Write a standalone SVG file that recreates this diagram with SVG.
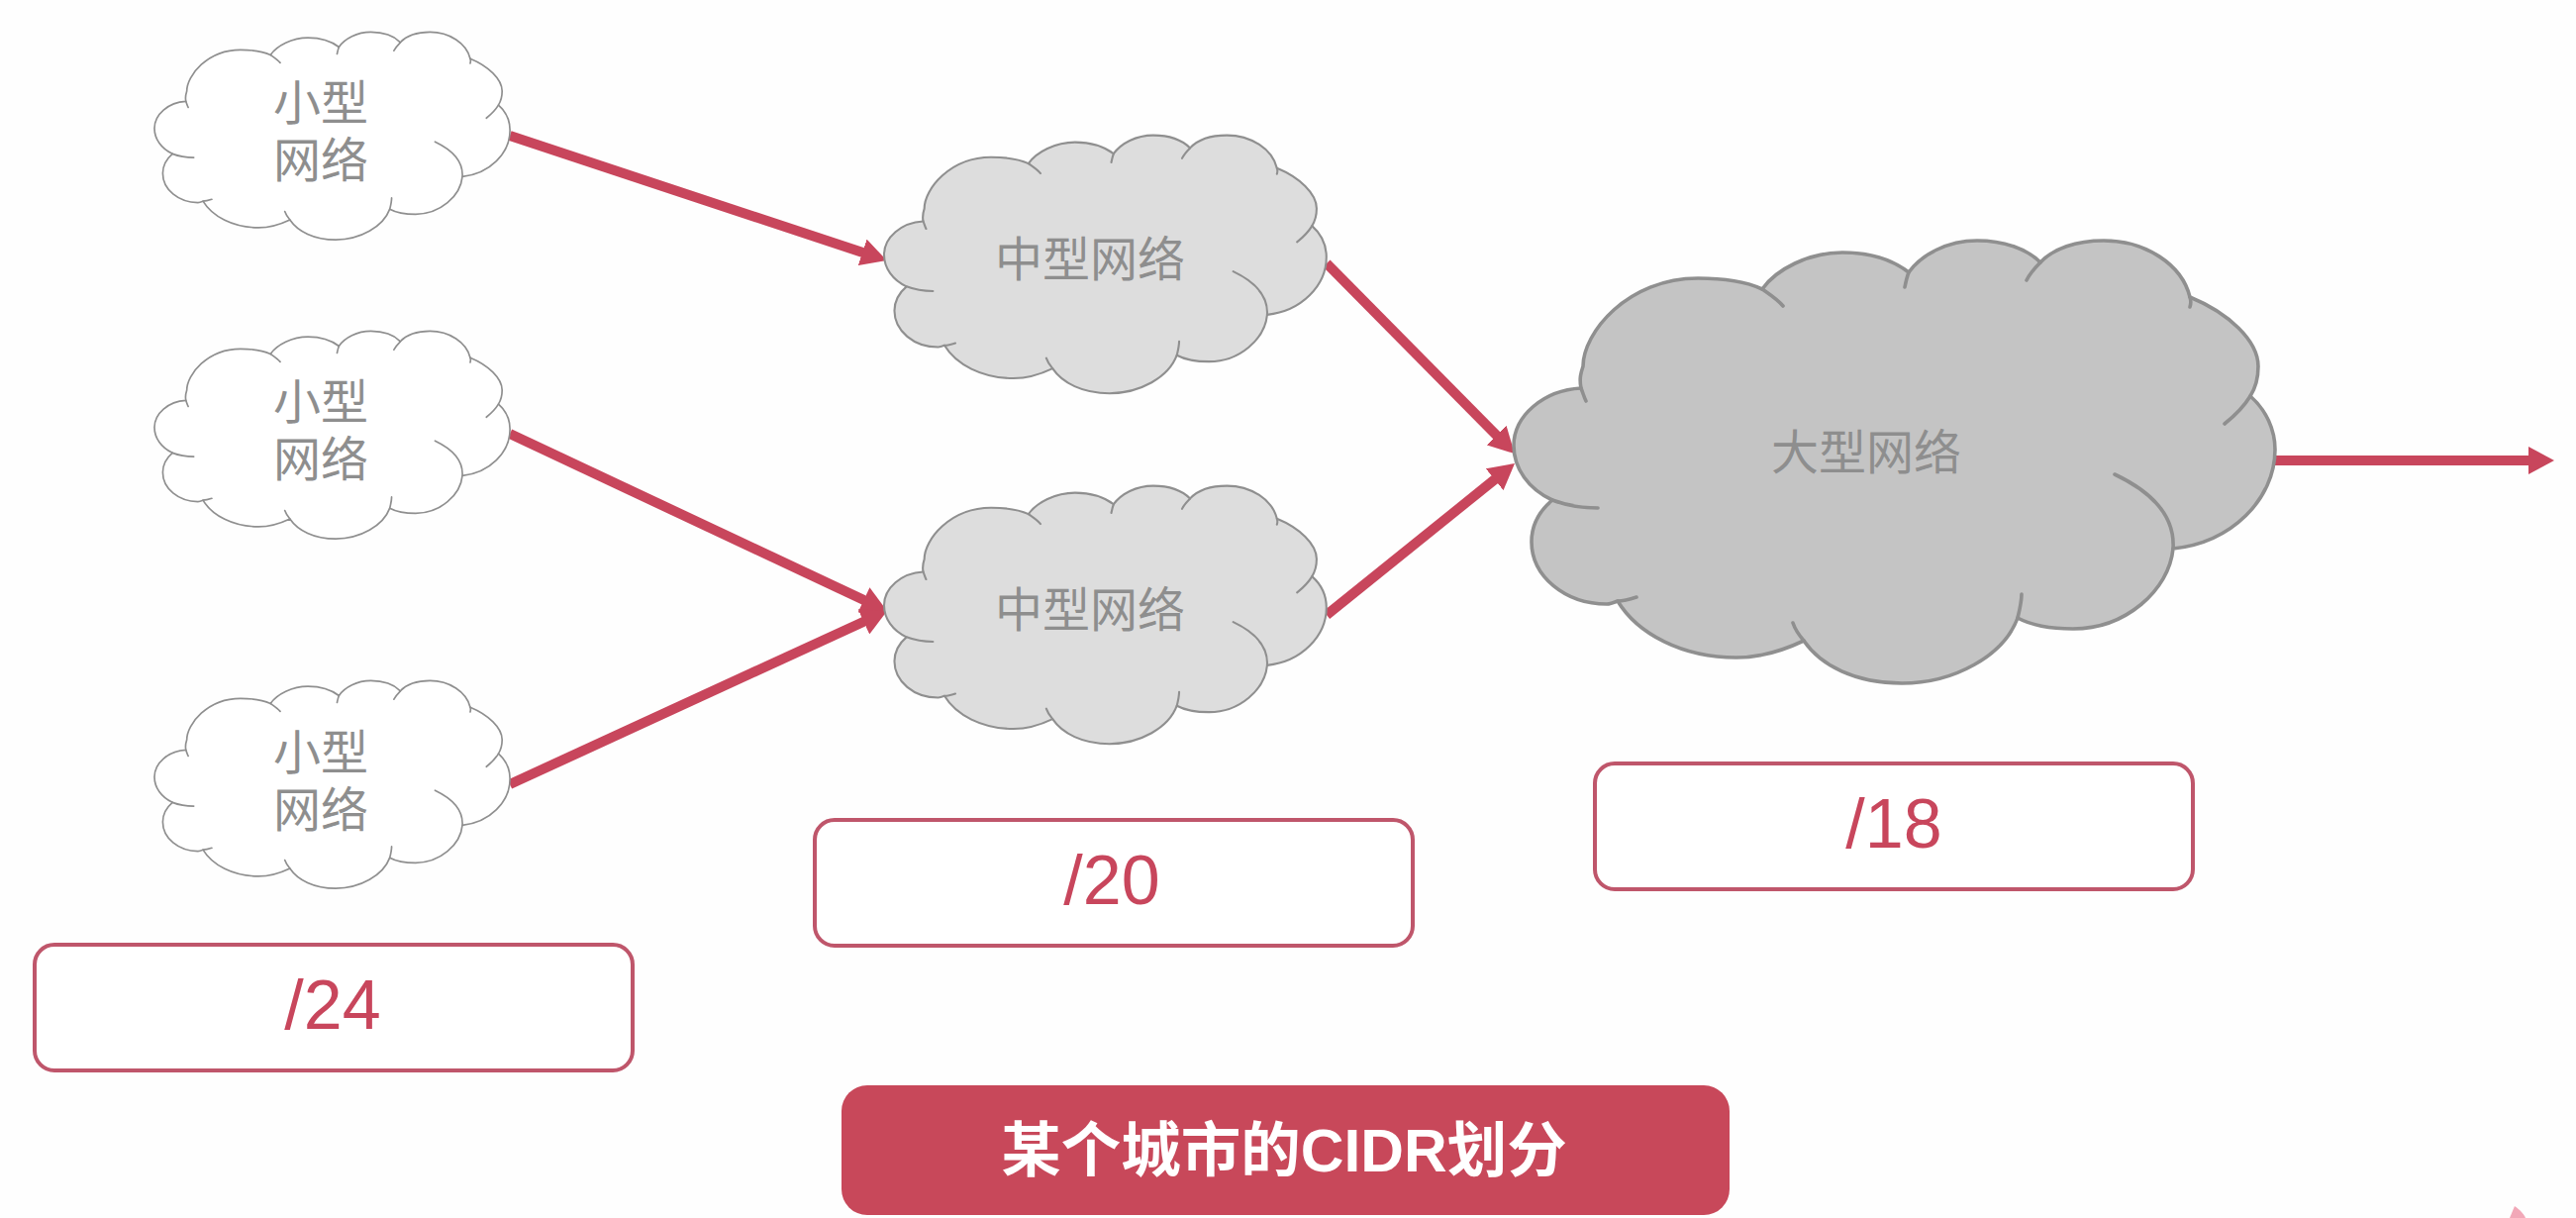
<svg xmlns="http://www.w3.org/2000/svg" width="2602" height="1230" viewBox="0 0 2602 1230">
<style>
.cb{stroke:#8f8f8f;stroke-width:3.6;stroke-linejoin:round;vector-effect:non-scaling-stroke}
.ct{fill:none;stroke:#8f8f8f;stroke-width:3.6;stroke-linecap:round;vector-effect:non-scaling-stroke}
.small{fill:#ffffff}.medium{fill:#dddddd}.large{fill:#c4c4c4}
.lbl{font-family:"Noto Sans CJK SC","Liberation Sans",sans-serif;font-size:48px;font-weight:400;fill:#8e8e8e;text-anchor:middle}
.conn{stroke:#c8465c;stroke-width:10;fill:none;marker-end:url(#head)}
.pill{fill:#ffffff;stroke:#bf566b;stroke-width:4}
.num{font-family:"Liberation Sans",sans-serif;font-size:70px;fill:#c8465c;text-anchor:middle}
.title{font-family:"Liberation Sans","Noto Sans CJK SC",sans-serif;font-size:60.5px;font-weight:700;fill:#ffffff;text-anchor:middle}
</style>
<defs>
<marker id="head" markerUnits="userSpaceOnUse" viewBox="0 0 26 28" refX="2" refY="14" markerWidth="26" markerHeight="28" orient="auto"><path d="M0 0L26 14L0 28Z" fill="#c8465c"/></marker>
<path id="body" d="M68 150C66 140 68 134 70 128C70 94 115 39 186 39C213 39 236 43 251 50C265 30 298 13 332 13C358 13 382 20 399 33C412 15 438 1 468 1C495 1 518 9 532 23C545 9 568 1 596 1C638 1 675 25 683 58C722 74 752 102 752 128C752 140 749 150 744 158C760 172 769 192 769 212C769 262 725 306 666 312C662 354 618 393 565 393C542 393 522 389 509 382C495 420 445 448 392 448C345 448 310 430 293 405C272 415 250 422 225 422C170 422 125 398 105 365C100 367 97 368 94 368C52 368 18 340 18 305C18 288 26 274 39 263C15 252 0 231 0 208C0 178 30 152 68 150Z"/>
<path id="ticks" d="M68 150C70 155 71 159 73 163M39 263C52 268 68 271 85 271M105 365C112 365 118 363 124 361M293 405C287 398 284 393 282 387M509 382C511 374 513 366 513 358M666 312C668 280 645 255 607 237M744 158C738 168 728 178 718 186M683 58C684 61 684 65 683 68M532 23C526 29 521 35 518 41M399 33C397 38 396 43 395 48M251 50C258 55 266 60 272 67"/>
</defs>
<rect id="background" width="2602" height="1230" fill="#fefefe"/>
<g id="connectors">
<line class="conn" x1="515" y1="137" x2="873" y2="255.5"/>
<line class="conn" x1="515" y1="438" x2="874.3" y2="606.8"/>
<line class="conn" x1="515" y1="792" x2="874.2" y2="627"/>
<line class="conn" x1="1340" y1="266" x2="1513" y2="441"/>
<line class="conn" x1="1340" y1="621" x2="1511.3" y2="483"/>
<line class="conn" x1="2297" y1="465" x2="2556" y2="465"/>
</g>
<g id="small-1">
<g transform="translate(156 32) scale(.467 .469)"><use href="#body" class="cb small"/><use href="#ticks" class="ct"/></g>
<text class="lbl" x="324" y="121">小型<tspan x="324" dy="58">网络</tspan></text>
</g>
<g id="small-2">
<g transform="translate(156 334) scale(.467 .469)"><use href="#body" class="cb small"/><use href="#ticks" class="ct"/></g>
<text class="lbl" x="324" y="423">小型<tspan x="324" dy="58">网络</tspan></text>
</g>
<g id="small-3">
<g transform="translate(156 687) scale(.467 .469)"><use href="#body" class="cb small"/><use href="#ticks" class="ct"/></g>
<text class="lbl" x="324" y="777">小型<tspan x="324" dy="58">网络</tspan></text>
</g>
<g id="medium-1">
<g transform="translate(893 136) scale(.581 .583)"><use href="#body" class="cb medium"/><use href="#ticks" class="ct"/></g>
<text class="lbl" x="1101" y="279">中型网络</text>
</g>
<g id="medium-2">
<g transform="translate(893 490) scale(.581 .583)"><use href="#body" class="cb medium"/><use href="#ticks" class="ct"/></g>
<text class="lbl" x="1101" y="633">中型网络</text>
</g>
<g id="large">
<g transform="translate(1529 242)"><use href="#body" class="cb large"/><use href="#ticks" class="ct"/></g>
<text class="lbl" x="1885" y="474">大型网络</text>
</g>
<g id="mask-24">
<rect class="pill" x="35" y="954" width="604" height="127" rx="20"/>
<text class="num" x="336" y="1039">/24</text>
</g>
<g id="mask-20">
<rect class="pill" x="823" y="828" width="604" height="127" rx="20"/>
<text class="num" x="1123" y="913">/20</text>
</g>
<g id="mask-18">
<rect class="pill" x="1611" y="771" width="604" height="127" rx="20"/>
<text class="num" x="1913" y="856">/18</text>
</g>
<g id="title">
<rect x="850" y="1096" width="897" height="131" rx="26" fill="#c8485a"/>
<text class="title" x="1297" y="1183">某个城市的CIDR划分</text>
</g>
<path d="M2540 1218C2546 1222 2550 1227 2551 1230L2535 1230Z" fill="#f2a8b8"/>
</svg>
